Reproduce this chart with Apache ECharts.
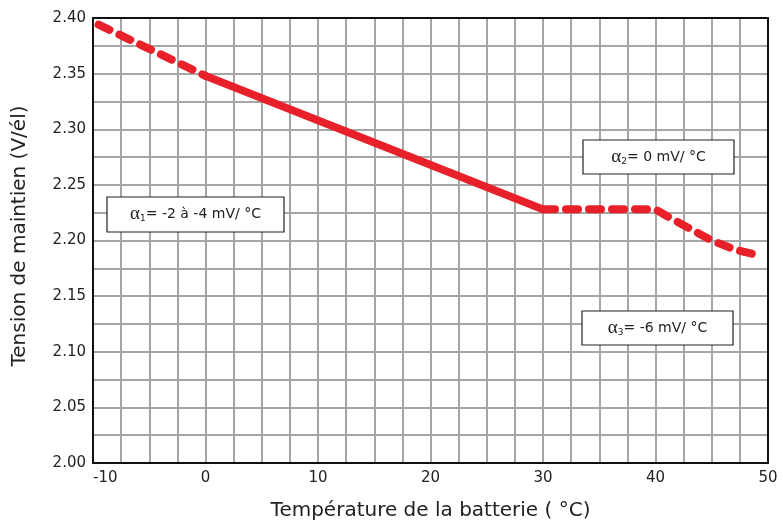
<!DOCTYPE html>
<html>
<head>
<meta charset="utf-8">
<script src="https://cdn.jsdelivr.net/npm/echarts@6/dist/echarts.min.js"></script>
<style>html,body{margin:0;padding:0;background:#fff}#c{width:783px;height:526px}</style>
</head>
<body>
<div id="c"></div>
<script>
// Data
const xTickLabels = [-10, 0, 10, 20, 30, 40, 50];
const yTickLabels = ['2.00','2.05','2.10','2.15','2.20','2.25','2.30','2.35','2.40'];
const lowTemp = [-9.5, 0];
const lowVolt = [2.394, 2.348];
const midTemp = [0, 30];
const midVolt = [2.348, 2.228];
const highTemp = [30, 40, 41, 43, 45, 47, 49];
const highVolt = [2.228, 2.228, 2.222, 2.211, 2.200, 2.192, 2.187];
const xTitle = 'Température de la batterie ( °C)';
const yTitle = 'Tension de maintien (V/él)';

const FONT = 'DejaVu Sans, Liberation Sans, Arial, sans-serif';
const RED = '#e8202a';
const zip = (a, b) => a.map((v, i) => [v, b[i]]);

const chart = echarts.init(document.getElementById('c'), null, {renderer: 'canvas'});
const gridLine = {show: true, lineStyle: {color: '#a6a6a6', width: 2}};
const lineBase = {type: 'line', showSymbol: false, symbol: 'none', silent: true, z: 5};

function annot(x, y, w, h, sub, rest) {
  return {
    type: 'group', z: 100,
    children: [
      {type: 'rect', z: 100, shape: {x: x, y: y, width: w, height: h},
       style: {fill: '#fff', stroke: '#222', lineWidth: 1.2}},
      {type: 'text', z: 101, x: x + w / 2, y: y + h / 2,
       style: {text: '{a|α}{s|' + sub + '}{t|' + rest + '}', align: 'center', verticalAlign: 'middle',
         rich: {
           a: {fontFamily: 'Liberation Serif, serif', fontSize: 19, fill: '#222'},
           s: {fontFamily: FONT, fontSize: 9, fill: '#222', padding: [9, 0, 0, 0]},
           t: {fontFamily: FONT, fontSize: 14, fill: '#222'}
         }}}
    ]
  };
}

chart.setOption({
  animation: false,
  backgroundColor: '#fff',
  grid: {left: 93, right: 15, top: 18, bottom: 58, show: true, backgroundColor: '#fff', borderWidth: 0},
  xAxis: [{
    type: 'value', min: -10, max: 50, interval: 2.5,
    name: xTitle, nameLocation: 'middle', nameGap: 38,
    nameTextStyle: {fontFamily: FONT, fontSize: 20, color: '#222'},
    axisLine: {show: true, onZero: false, lineStyle: {color: '#111', width: 2}},
    axisTick: {show: false},
    splitLine: gridLine,
    axisLabel: {
      fontFamily: FONT, fontSize: 15, color: '#222', margin: 8, alignMinLabel: 'left',
      formatter: v => xTickLabels.includes(Math.round(v * 100) / 100) ? String(v) : ''
    }
  }, {
    type: 'value', min: -10, max: 50, position: 'top',
    axisLine: {show: true, onZero: false, lineStyle: {color: '#111', width: 2}},
    axisTick: {show: false}, axisLabel: {show: false}, splitLine: {show: false}
  }],
  yAxis: [{
    type: 'value', min: 2.0, max: 2.4, interval: 0.025,
    axisLine: {show: true, onZero: false, lineStyle: {color: '#111', width: 2}},
    axisTick: {show: false},
    splitLine: gridLine,
    axisLabel: {
      fontFamily: FONT, fontSize: 15, color: '#222', margin: 7,
      formatter: v => { const s = v.toFixed(2); return (Math.round(v * 1000) % 50 === 0 && yTickLabels.includes(s)) ? s : ''; }
    }
  }, {
    type: 'value', min: 2.0, max: 2.4, position: 'right',
    axisLine: {show: true, onZero: false, lineStyle: {color: '#111', width: 2}},
    axisTick: {show: false}, axisLabel: {show: false}, splitLine: {show: false}
  }],
  series: [
    Object.assign({}, lineBase, {data: zip(lowTemp, lowVolt),
      lineStyle: {color: RED, width: 8, type: [12, 11], cap: 'round'}}),
    Object.assign({}, lineBase, {data: zip(midTemp, midVolt),
      lineStyle: {color: RED, width: 8, type: 'solid', cap: 'round'}}),
    Object.assign({}, lineBase, {data: zip(highTemp, highVolt),
      lineStyle: {color: RED, width: 8, type: [12, 11], cap: 'round'}})
  ],
  graphic: [
    {type: 'text', x: 20, y: 236, rotation: Math.PI / 2,
     style: {text: yTitle, fontFamily: FONT, fontSize: 20, fill: '#222', align: 'center', verticalAlign: 'middle'}},
    annot(107, 197, 177, 35, '1', '= -2 à -4 mV/ °C'),
    annot(583, 140, 151, 34, '2', '= 0 mV/ °C'),
    annot(582, 311, 151, 34, '3', '= -6 mV/ °C')
  ]
});
</script>
</body>
</html>
